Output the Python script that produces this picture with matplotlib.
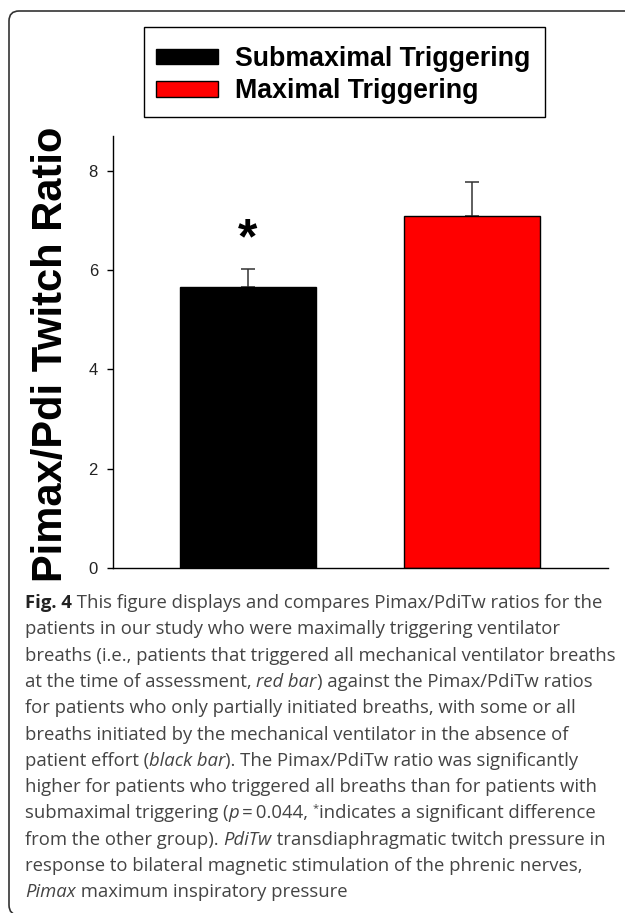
import matplotlib
matplotlib.use("Agg")
import matplotlib.pyplot as plt
from matplotlib.patches import FancyBboxPatch, Rectangle
from matplotlib.transforms import IdentityTransform
import numpy as np

# data
groups = ["Submaximal Triggering", "Maximal Triggering"]
ratios = [5.66, 7.10]
sem = [0.37, 0.68]
bar_colors = ["black", "red"]
yticks = [0, 2, 4, 6, 8]
ylabel = "Pimax/Pdi Twitch Ratio"

# caption, split in lines; n = normal, b = bold, i = italic, s = superscript
caption = [
    [("Fig. 4", "b"), (" This figure displays and compares Pimax/PdiTw ratios for the", "n")],
    [("patients in our study who were maximally triggering ventilator", "n")],
    [("breaths (i.e., patients that triggered all mechanical ventilator breaths", "n")],
    [("at the time of assessment, ", "n"), ("red bar", "i"), (") against the Pimax/PdiTw ratios", "n")],
    [("for patients who only partially initiated breaths, with some or all", "n")],
    [("breaths initiated by the mechanical ventilator in the absence of", "n")],
    [("patient effort (", "n"), ("black bar", "i"), ("). The Pimax/PdiTw ratio was significantly", "n")],
    [("higher for patients who triggered all breaths than for patients with", "n")],
    [("submaximal triggering (", "n"), ("p", "i"), ("\u2009=\u20090.044, ", "n"), ("*", "s"),
     ("indicates a significant difference", "n")],
    [("from the other group). ", "n"), ("PdiTw", "i"), (" transdiaphragmatic twitch pressure in", "n")],
    [("response to bilateral magnetic stimulation of the phrenic nerves,", "n")],
    [("Pimax", "i"), (" maximum inspiratory pressure", "n")],
]

W, H = 625, 913
fig = plt.figure(figsize=(W / 100, H / 100), dpi=100)

# rounded frame around the whole figure (right and bottom run off the image)
frame = FancyBboxPatch((9, -2), 720, H - 11 + 2,
                       boxstyle="round,pad=0,rounding_size=10",
                       transform=IdentityTransform(), fill=False,
                       edgecolor="#333333", linewidth=1.2)
fig.patches.append(frame)

ax = fig.add_axes([113 / W, 1 - 568 / H, (608 - 113) / W, (568 - 136) / H])
x = np.arange(len(groups))
handles = []
for i in range(len(groups)):
    b = ax.bar(x[i], ratios[i], width=0.606, color=bar_colors[i],
               edgecolor="black", linewidth=1.0, label=groups[i], zorder=2)
    handles.append(b)
ax.errorbar(x, ratios, yerr=[np.zeros(len(x)), sem], fmt="none",
            ecolor="#333333", elinewidth=1.1, capsize=5, capthick=1.1, zorder=1)

ax.set_xlim(-0.601, 1.604)
ax.set_ylim(0, 8.705)
ax.set_xticks([])
ax.set_yticks(yticks)
ax.spines["top"].set_visible(False)
ax.spines["right"].set_visible(False)
for s in ["left", "bottom"]:
    ax.spines[s].set_linewidth(1.0)
ax.tick_params(axis="y", direction="out", length=4.3, width=1.0, pad=6.5,
               labelsize=12, labelcolor="#222222")
for lab in ax.get_yticklabels():
    lab.set_family("Liberation Sans")

# significance star over the submaximal bar
ax.text(x[0], 6.60, "*", ha="center", va="center", fontsize=36,
        fontweight="bold", family="Liberation Sans")

fig.text((63 + 8) / W, 1 - 354.5 / H, ylabel, rotation=90, ha="right", va="center",
         fontsize=30, fontweight="bold", family="Liberation Sans")

# legend: entries without frame, box drawn separately
leg = fig.legend(handles, groups, loc="upper left", bbox_to_anchor=(156 / W, 1 - 46 / H),
                 prop=dict(family="Liberation Sans", weight="bold", size=19.3),
                 frameon=False, handlelength=2.31, handleheight=0.53,
                 handletextpad=0.63, labelspacing=0.24, borderpad=0, borderaxespad=0)
fig.patches.append(Rectangle((144, H - 117), 545 - 144, 117 - 27,
                             transform=IdentityTransform(), fill=False,
                             edgecolor="black", linewidth=1.0))

# caption text, drawn run by run
renderer = fig.canvas.get_renderer()
cap_font = "Open Sans"
cap_size = 13.3
y0, dy = 608, 26.3
for k, runs in enumerate(caption):
    xpos = 25
    ybase = H - (y0 + k * dy)
    for s, style in runs:
        kw = dict(family=cap_font, size=cap_size, color="#444444")
        yy = ybase
        if style == "b":
            kw["weight"] = "bold"
            kw["color"] = "#222222"
        elif style == "i":
            kw["style"] = "italic"
        elif style == "s":
            kw["size"] = cap_size * 0.6
            yy = ybase + 7
        t = fig.text(xpos, yy, s, transform=IdentityTransform(), va="baseline", **kw)
        xpos += t.get_window_extent(renderer=renderer).width

fig.savefig("out.png", dpi=100)
